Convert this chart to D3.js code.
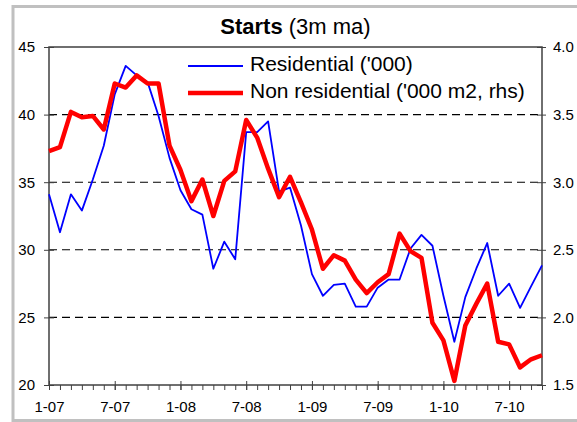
<!DOCTYPE html>
<html>
<head>
<meta charset="utf-8">
<script src="https://cdn.jsdelivr.net/npm/d3@7"></script>
<style>
  body { margin: 0; background: #fff; }
  text { font-family: "Liberation Sans", Arial, sans-serif; fill: #000; }
</style>
</head>
<body>
<div id="chart"></div>
<script>
// months Jan-07 .. Oct-10, one value per month
var months = d3.timeMonth.range(new Date(2007, 0, 1), new Date(2010, 10, 1));
var residential = [34.1, 31.3, 34.1, 32.9, 35.2, 37.7, 41.5, 43.6, 42.9, 42.4, 39.9, 36.8,
                   34.4, 33.0, 32.6, 28.6, 30.6, 29.3, 38.7, 38.7, 39.5, 34.3, 34.6, 31.8,
                   28.2, 26.6, 27.4, 27.5, 25.8, 25.8, 27.2, 27.8, 27.8, 30.1, 31.1, 30.3,
                   26.6, 23.2, 26.5, 28.6, 30.5, 26.6, 27.5, 25.7, 27.3, 28.85];
var nonResidential = [3.23, 3.26, 3.52, 3.48, 3.49, 3.39, 3.73, 3.70, 3.79, 3.73, 3.73, 3.27,
                      3.09, 2.86, 3.02, 2.75, 3.01, 3.08, 3.46, 3.33, 3.10, 2.89, 3.04, 2.85,
                      2.65, 2.36, 2.46, 2.42, 2.28, 2.18, 2.26, 2.32, 2.62, 2.49, 2.44, 1.96,
                      1.83, 1.53, 1.94, 2.10, 2.25, 1.82, 1.80, 1.63, 1.69, 1.72];
var leftTicks = [20, 25, 30, 35, 40, 45];
var rightTicks = [1.5, 2.0, 2.5, 3.0, 3.5, 4.0];
var gridTicks = [25, 30, 35, 40];
var legendNames = ["Residential ('000)", "Non residential ('000 m2, rhs)"];
var legendColors = ["#0000ff", "#ff0000"];

var width = 577, height = 422;
var plotLeft = 49, plotRight = 542, plotTop = 47, plotBottom = 385;

var svg = d3.select("#chart")
    .append("svg")
    .attr("width", width)
    .attr("height", height)

// outer grey frame
svg.append("rect")
    .attr("x", 13).attr("y", 6.5)
    .attr("width", 600).attr("height", 414)
    .attr("fill", "#fff")
    .attr("stroke", "#c0c0c0")
    .attr("stroke-width", 3)

var x = d3.scalePoint()
    .domain(months.map(function(d, i){ return i; }))
    .range([plotLeft, plotRight])

var yL = d3.scaleLinear().domain([20, 45]).range([plotBottom, plotTop])
var yR = d3.scaleLinear().domain([1.5, 4.0]).range([plotBottom, plotTop])

// dashed gridlines
svg.append("g")
    .selectAll("line")
    .data(gridTicks)
    .enter()
    .append("line")
    .attr("x1", plotLeft).attr("x2", plotRight)
    .attr("y1", function(d){ return yL(d); })
    .attr("y2", function(d){ return yL(d); })
    .attr("stroke", "#000")
    .attr("stroke-width", 1.1)
    .attr("stroke-dasharray", "8,5")

// plot area box
svg.append("rect")
    .attr("x", plotLeft).attr("y", plotTop)
    .attr("width", plotRight - plotLeft).attr("height", plotBottom - plotTop)
    .attr("fill", "none")
    .attr("stroke", "#404040")
    .attr("stroke-width", 1.5)

// left axis
svg.append("g")
    .attr("transform", "translate(" + plotLeft + ",0)")
    .call(d3.axisLeft(yL).tickValues(leftTicks).tickSize(5).tickPadding(9))
    .call(function(g){
        g.select(".domain").remove();
        g.selectAll(".tick line").attr("x1", 5).attr("stroke", "#404040");
        g.selectAll("text").style("font-size", "15px");
    })

// right axis
svg.append("g")
    .attr("transform", "translate(" + plotRight + ",0)")
    .call(d3.axisRight(yR).tickValues(rightTicks).tickFormat(d3.format(".1f")).tickSize(4).tickPadding(7))
    .call(function(g){
        g.select(".domain").remove();
        g.selectAll(".tick line").attr("x1", -5).attr("stroke", "#404040");
        g.selectAll("text").style("font-size", "15px");
    })

// minor month ticks
svg.append("g")
    .attr("transform", "translate(0," + plotBottom + ")")
    .call(d3.axisBottom(x).tickSize(5).tickFormat(""))
    .call(function(g){
        g.select(".domain").remove();
        g.selectAll(".tick line").attr("stroke", "#404040");
    })

// major ticks + labels every 6 months
var fmt = d3.timeFormat("%-m-%y");
svg.append("g")
    .attr("transform", "translate(0," + (plotBottom - 4) + ")")
    .call(d3.axisBottom(x)
        .tickValues(x.domain().filter(function(i){ return i % 6 == 0; }))
        .tickSize(9).tickPadding(11)
        .tickFormat(function(i){ return fmt(months[i]); }))
    .call(function(g){
        g.select(".domain").remove();
        g.selectAll(".tick line").attr("stroke", "#404040");
        g.selectAll("text").style("font-size", "15px");
    })

// series lines
var lineL = d3.line()
    .x(function(d, i){ return x(i); })
    .y(function(d){ return yL(d); })
var lineR = d3.line()
    .x(function(d, i){ return x(i); })
    .y(function(d){ return yR(d); })

svg.append("path")
    .datum(residential)
    .attr("d", lineL)
    .attr("fill", "none")
    .attr("stroke", "#0000ff")
    .attr("stroke-width", 1.8)
    .attr("stroke-linejoin", "round")

svg.append("path")
    .datum(nonResidential)
    .attr("d", lineR)
    .attr("fill", "none")
    .attr("stroke", "#ff0000")
    .attr("stroke-width", 4.5)
    .attr("stroke-linejoin", "round")

// title
var title = svg.append("text")
    .attr("x", (plotLeft + plotRight) / 2)
    .attr("y", 34)
    .attr("text-anchor", "middle")
    .style("font-size", "22px")
title.append("tspan").style("font-weight", "bold").text("Starts")
title.append("tspan").text(" (3m ma)")

// legend
var legend = svg.append("g")
    .selectAll("g")
    .data(legendNames)
    .enter()
    .append("g")
    .attr("transform", function(d, i){ return "translate(188," + (66 + i * 27) + ")"; })

legend.append("line")
    .attr("x1", 0).attr("x2", 55)
    .attr("stroke", function(d, i){ return legendColors[i]; })
    .attr("stroke-width", function(d, i){ return i == 0 ? 1.8 : 4.5; })

legend.append("text")
    .attr("x", 62)
    .attr("y", 5)
    .style("font-size", "21px")
    .text(function(d){ return d; })
</script>
</body>
</html>
